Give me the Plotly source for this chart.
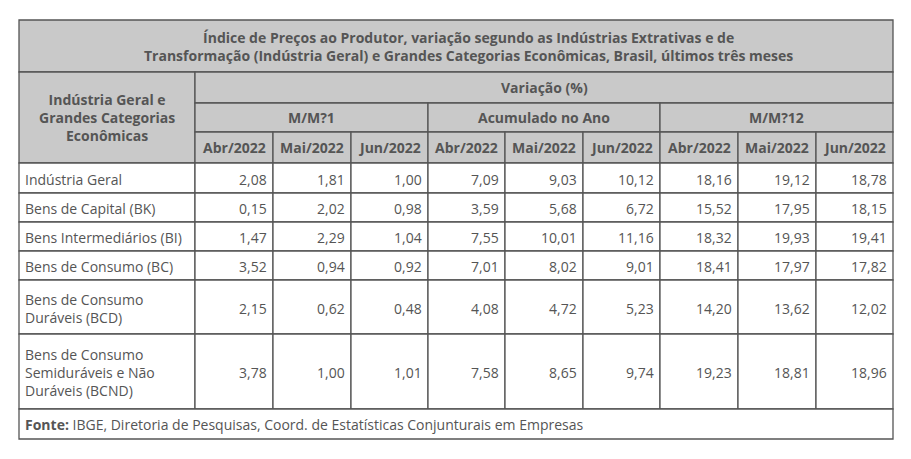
import plotly.graph_objects as go

titulo = ("Índice de Preços ao Produtor, variação segundo as Indústrias Extrativas e de<br>"
          "Transformação (Indústria Geral) e Grandes Categorias Econômicas, Brasil, últimos três meses")
cabecalho_linha = "Indústria Geral e<br>Grandes Categorias<br>Econômicas"
variacao = "Variação (%)"
grupos = ["M/M?1", "Acumulado no Ano", "M/M?12"]
meses = ["Abr/2022", "Mai/2022", "Jun/2022"]
categorias = ["Indústria Geral", "Bens de Capital (BK)", "Bens Intermediários (BI)",
              "Bens de Consumo (BC)", "Bens de Consumo<br>Duráveis (BCD)",
              "Bens de Consumo<br>Semiduráveis e Não<br>Duráveis (BCND)"]
mm1_abr = [2.08, 0.15, 1.47, 3.52, 2.15, 3.78]
mm1_mai = [1.81, 2.02, 2.29, 0.94, 0.62, 1.00]
mm1_jun = [1.00, 0.98, 1.04, 0.92, 0.48, 1.01]
acum_abr = [7.09, 3.59, 7.55, 7.01, 4.08, 7.58]
acum_mai = [9.03, 5.68, 10.01, 8.02, 4.72, 8.65]
acum_jun = [10.12, 6.72, 11.16, 9.01, 5.23, 9.74]
mm12_abr = [18.16, 15.52, 18.32, 18.41, 14.20, 19.23]
mm12_mai = [19.12, 17.95, 19.93, 17.97, 13.62, 18.81]
mm12_jun = [18.78, 18.15, 19.41, 17.82, 12.02, 18.96]
fonte = "<b>Fonte:</b> IBGE, Diretoria de Pesquisas, Coord. de Estatísticas Conjunturais em Empresas"

colunas = [mm1_abr, mm1_mai, mm1_jun, acum_abr, acum_mai, acum_jun, mm12_abr, mm12_mai, mm12_jun]

# layout grid (pixels in the screenshot)
xs = [19, 195, 273, 351, 428, 505, 583, 660, 738, 816, 893]
y_title = (20, 72)
y_h = [72, 103, 132, 163]
y_rows = [163, 193, 222, 251, 280, 334, 409]
y_foot = (409, 439)

GRAY = "#c9c9c9"
LINE = "#555555"
TXT = "#555555"
FONT = "Open Sans"
FS = 14

fig = go.Figure()
shapes = []
ann = []

def cell(x0, x1, y0, y1, fill="white"):
    shapes.append(dict(type="rect", x0=x0, x1=x1, y0=y0, y1=y1, xref="x", yref="y",
                       fillcolor=fill, line=dict(color=LINE, width=1.3), layer="below"))

def text(x, y, t, anchor="center", bold=False, size=FS):
    ann.append(dict(x=x, y=y, xref="x", yref="y", text=f"<b>{t}</b>" if bold else t,
                    showarrow=False, xanchor=anchor, yanchor="middle", align=anchor,
                    font=dict(family=FONT, size=size, color=TXT)))

# title
cell(xs[0], xs[-1], *y_title, GRAY)
text((xs[0] + xs[-1]) / 2 + 12, sum(y_title) / 2, titulo, bold=True)
# header
cell(xs[0], xs[1], y_h[0], y_h[3], GRAY)
text((xs[0] + xs[1]) / 2, (y_h[0] + y_h[3]) / 2, cabecalho_linha, bold=True)
cell(xs[1], xs[-1], y_h[0], y_h[1], GRAY)
text((xs[1] + xs[-1]) / 2, sum(y_h[:2]) / 2, variacao, bold=True)
for g, nome in enumerate(grupos):
    a, b = xs[1 + 3 * g], xs[4 + 3 * g]
    cell(a, b, y_h[1], y_h[2], GRAY)
    text((a + b) / 2, (y_h[1] + y_h[2]) / 2, nome, bold=True)
    for m, mes in enumerate(meses):
        c0, c1 = xs[1 + 3 * g + m], xs[2 + 3 * g + m]
        cell(c0, c1, y_h[2], y_h[3], GRAY)
        text((c0 + c1) / 2, (y_h[2] + y_h[3]) / 2, mes, bold=True)
# data
for r, cat in enumerate(categorias):
    y0, y1 = y_rows[r], y_rows[r + 1]
    cell(xs[0], xs[1], y0, y1)
    text(xs[0] + 4, (y0 + y1) / 2 + 1, cat, anchor="left")
    for c, col in enumerate(colunas):
        cell(xs[c + 1], xs[c + 2], y0, y1)
        text(xs[c + 2] - 4, (y0 + y1) / 2 + 1, f"{col[r]:.2f}".replace(".", ","), anchor="right")
# footer
cell(xs[0], xs[-1], *y_foot)
text(xs[0] + 4, sum(y_foot) / 2, fonte, anchor="left")

# page body has an 8px margin, so the plot starts at pixel 8
fig.update_layout(
    width=895, height=443, margin=dict(l=0, r=0, t=0, b=0),
    paper_bgcolor="white", plot_bgcolor="white",
    xaxis=dict(range=[8, 903], visible=False, fixedrange=True),
    yaxis=dict(range=[451, 8], visible=False, fixedrange=True),
    shapes=shapes, annotations=ann, showlegend=False,
)
fig.write_html("out.html", config={"displayModeBar": False})
